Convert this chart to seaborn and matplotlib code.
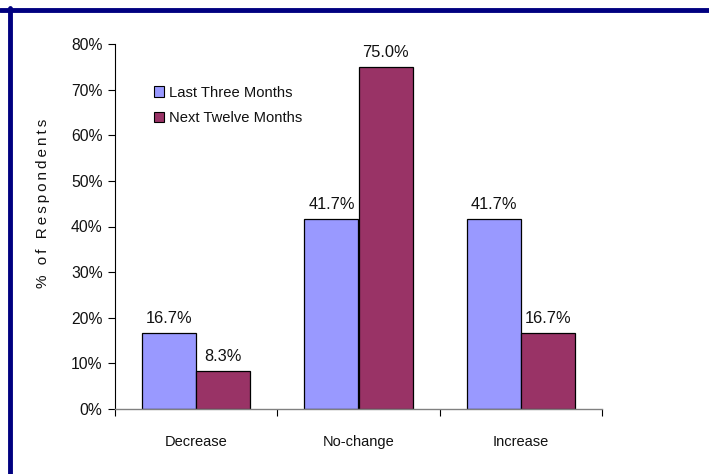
import matplotlib
matplotlib.use("Agg")
import matplotlib.pyplot as plt
from matplotlib.lines import Line2D
from matplotlib.ticker import FixedLocator, FuncFormatter
import seaborn as sns
import pandas as pd

categories = ["Decrease", "No-change", "Increase"]
series_names = ["Last Three Months", "Next Twelve Months"]
last_three = [16.7, 41.7, 41.7]
next_twelve = [8.3, 75.0, 16.7]
y_ticks = [0, 10, 20, 30, 40, 50, 60, 70, 80]

df = pd.DataFrame({
    "Category": categories * 2,
    "Period": [series_names[0]] * 3 + [series_names[1]] * 3,
    "Value": last_three + next_twelve,
})

sns.set_theme(style="white")
plt.rcParams["font.family"] = ["Liberation Sans", "DejaVu Sans"]

fig = plt.figure(figsize=(7.09, 4.74), dpi=100)
ax = fig.add_axes([115 / 709, 1 - 409 / 474, 487 / 709, (409 - 44) / 474])

palette = {series_names[0]: "#9999FF", series_names[1]: "#993366"}
sns.barplot(data=df, x="Category", y="Value", hue="Period", order=categories,
            hue_order=series_names, palette=palette, width=0.667, gap=0,
            edgecolor="black", linewidth=0.9, saturation=1, ax=ax, legend=False)

for cont in ax.containers:
    ax.bar_label(cont, fmt="%.1f%%", padding=5, fontsize=11.8, color="#111111")

ax.set_xlim(-0.5, 2.5)
ax.set_ylim(0, 80)
ax.set_xlabel("")
ax.set_ylabel("")

# y axis: percent ticks pointing outward
ax.yaxis.set_major_locator(FixedLocator(y_ticks))
ax.yaxis.set_major_formatter(FuncFormatter(lambda v, _: f"{v:.0f}%"))
ax.tick_params(axis="y", which="major", left=True, direction="out", length=5,
               width=0.8, color="black", labelsize=11.3, labelcolor="#111111", pad=4)

# x axis: labels centred on groups, tick marks on group boundaries
ax.xaxis.set_minor_locator(FixedLocator([-0.5, 0.5, 1.5, 2.5]))
ax.tick_params(axis="x", which="major", bottom=False, labelsize=10.5,
               labelcolor="#111111", pad=13)
ax.tick_params(axis="x", which="minor", bottom=True, direction="out", length=5,
               width=0.8, color="black")

for side in ("top", "right"):
    ax.spines[side].set_visible(False)
ax.spines["left"].set_color("black")
ax.spines["left"].set_linewidth(0.8)
ax.spines["bottom"].set_color("#808080")
ax.spines["bottom"].set_linewidth(1.0)

fig.text(43 / 709, 1 - 203 / 474, "\u2009".join("% of Respondents"),
         rotation=90, ha="center", va="center", fontsize=11, color="#111111")

handles = [plt.Rectangle((0, 0), 1, 1, facecolor=palette[n], edgecolor="black",
                         linewidth=0.8) for n in series_names]
fig.legend(handles, series_names, loc="upper left",
           bbox_to_anchor=(148 / 709, 1 - 80 / 474), frameon=False,
           fontsize=10.6, handlelength=0.72, handleheight=0.72,
           handletextpad=0.3, labelspacing=0.75, borderaxespad=0,
           labelcolor="#111111")

# navy frame edges along the top and left
fig.add_artist(Line2D([0, 1], [1 - 10 / 474] * 2, color="#000080", linewidth=3.5,
                      transform=fig.transFigure))
fig.add_artist(Line2D([9.5 / 709] * 2, [0, 1 - 8 / 474], color="#000080",
                      linewidth=3.5, transform=fig.transFigure))

fig.savefig("out.png", dpi=100, facecolor="white")
